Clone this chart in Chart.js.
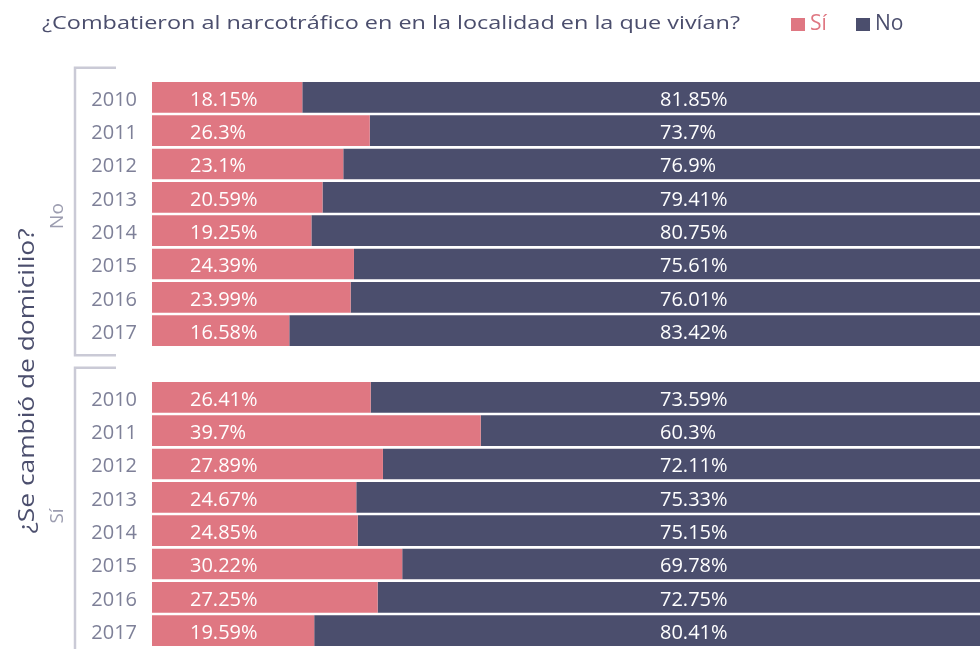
<!DOCTYPE html>
<html>
<head>
<meta charset="utf-8">
<script src="https://cdn.jsdelivr.net/npm/chart.js@4/dist/chart.umd.min.js"></script>
<style>
  html, body { margin: 0; padding: 0; background: #ffffff; overflow: hidden; }
  #wrap { position: relative; width: 980px; height: 649px; overflow: hidden; }
</style>
</head>
<body>
<div id="wrap"><canvas id="c" width="980" height="649"></canvas></div>
<script>
// ---- Data ----
const years = ['2010', '2011', '2012', '2013', '2014', '2015', '2016', '2017'];
const groups = ['No', 'Sí'];            // ¿Se cambió de domicilio?
const siNoMove  = [18.15, 26.3, 23.1, 20.59, 19.25, 24.39, 23.99, 16.58];
const noNoMove  = [81.85, 73.7, 76.9, 79.41, 80.75, 75.61, 76.01, 83.42];
const siMoved   = [26.41, 39.7, 27.89, 24.67, 24.85, 30.22, 27.25, 19.59];
const noMoved   = [73.59, 60.3, 72.11, 75.33, 75.15, 69.78, 72.75, 80.41];
const seriesNames = ['Sí', 'No'];
const titleText = '¿Combatieron al narcotráfico en en la localidad en la que vivían?';
const axisTitle = '¿Se cambió de domicilio?';

// Category list: group "No" years, spacer, group "Sí" years
const labels = [...years, '', ...years];
const siData = [...siNoMove, null, ...siMoved];
const noData = [...noNoMove, null, ...noMoved];

const PINK = '#df7782';
const DARK = '#4b4e6d';
const TICK = '#7e8098';
const GROUPC = '#9c9db0';
const BRACKET = '#cacad6';
const FONT = '"Open Sans", Lato, sans-serif';

const fmt = v => (Math.round(v * 100) / 100) + '%';

// draw text stretched horizontally to a target width (wider source font)
function stretchText(ctx, text, x, y, target) {
  const w = ctx.measureText(text).width;
  const sx = target / w;
  ctx.save();
  ctx.translate(x, y);
  ctx.scale(sx, 1);
  ctx.fillText(text, 0, 0);
  ctx.restore();
}

const decor = {
  id: 'decor',
  afterDatasetsDraw(chart) {
    const ctx = chart.ctx;
    const y = chart.scales.y, x = chart.scales.x;
    ctx.save();
    ctx.font = '20px ' + FONT;
    ctx.fillStyle = '#ffffff';
    ctx.textBaseline = 'middle';
    ctx.textAlign = 'left';
    const x0 = x.getPixelForValue(0);
    labels.forEach((l, i) => {
      if (siData[i] == null) return;
      const py = y.getPixelForValue(i);
      ctx.fillText(fmt(siData[i]), x0 + 38, py + 2.5);
      ctx.fillText(fmt(noData[i]), x0 + 508, py + 2.5);
    });
    ctx.restore();
  },
  afterDraw(chart) {
    const ctx = chart.ctx;
    const y = chart.scales.y;
    const step = y.getPixelForValue(1) - y.getPixelForValue(0);
    ctx.save();
    // title
    ctx.font = '19px ' + FONT;
    ctx.fillStyle = DARK;
    ctx.textBaseline = 'middle';
    ctx.textAlign = 'left';
    stretchText(ctx, titleText, 42, 24, 698);
    // legend
    ctx.font = '21px ' + FONT;
    const legendX = [791, 856];
    const colors = [PINK, DARK];
    seriesNames.forEach((n, i) => {
      ctx.fillStyle = colors[i];
      ctx.fillRect(legendX[i], 18, 14, 13);
      ctx.fillText(n, legendX[i] + 19, 24);
    });
    // brackets + group labels
    const ranges = [[0, 7], [9, 16]];
    ranges.forEach((r, gi) => {
      const top = y.getPixelForValue(r[0]) - step / 2 - 13;
      const bot = y.getPixelForValue(r[1]) + step / 2 + 8;
      ctx.strokeStyle = BRACKET;
      ctx.lineWidth = 2.5;
      ctx.beginPath();
      ctx.moveTo(116, top);
      ctx.lineTo(75, top);
      ctx.lineTo(75, bot);
      ctx.lineTo(116, bot);
      ctx.stroke();
      const cy = (y.getPixelForValue(r[0]) + y.getPixelForValue(r[1])) / 2;
      ctx.save();
      ctx.translate(58, cy + 2);
      ctx.rotate(-Math.PI / 2);
      ctx.font = '19px ' + FONT;
      ctx.fillStyle = GROUPC;
      ctx.textAlign = 'center';
      ctx.textBaseline = 'middle';
      ctx.fillText(groups[gi], 0, 0);
      ctx.restore();
    });
    // axis title
    ctx.save();
    ctx.translate(28, 381);
    ctx.rotate(-Math.PI / 2);
    ctx.font = '21px ' + FONT;
    ctx.fillStyle = DARK;
    ctx.textAlign = 'left';
    ctx.textBaseline = 'middle';
    stretchText(ctx, axisTitle, -152.5, 0, 305);
    ctx.restore();
    ctx.restore();
  }
};

new Chart(document.getElementById('c'), {
  type: 'bar',
  data: {
    labels: labels,
    datasets: [
      { label: seriesNames[0], data: siData, backgroundColor: PINK, barPercentage: 0.92, categoryPercentage: 1.0 },
      { label: seriesNames[1], data: noData, backgroundColor: DARK, barPercentage: 0.92, categoryPercentage: 1.0 }
    ]
  },
  options: {
    indexAxis: 'y',
    responsive: false,
    animation: false,
    layout: { padding: { top: 80.7, bottom: 1.7, left: 0, right: 0 } },
    plugins: { legend: { display: false }, tooltip: { enabled: false }, title: { display: false } },
    scales: {
      x: { stacked: true, min: 0, max: 100, display: false },
      y: {
        stacked: true,
        grid: { display: false, drawTicks: false },
        border: { display: false },
        ticks: { color: TICK, font: { family: FONT, size: 20 }, padding: 15, autoSkip: false, labelOffset: 2.5 },
        afterFit(scale) { scale.width = 152; scale.paddingTop = 0; scale.paddingBottom = 0; }
      }
    }
  },
  plugins: [decor]
});
</script>
</body>
</html>
